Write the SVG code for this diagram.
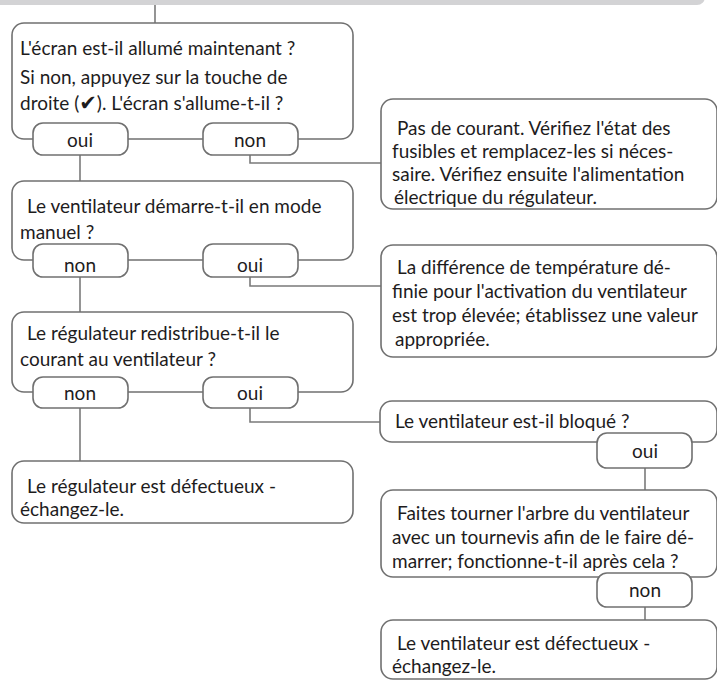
<svg xmlns="http://www.w3.org/2000/svg" width="717" height="681" viewBox="0 0 717 681">
<style>
.box{fill:#fff;stroke:#707070;stroke-width:1.6}
.pill{fill:#fff;stroke:#707070;stroke-width:1.6}
.con{fill:none;stroke:#7a7a7a;stroke-width:1.6}
text{font-family:Lato,"Liberation Sans",sans-serif;font-size:19px;fill:#1e1c1d}
.c{text-anchor:middle}
.chk{font-family:"DejaVu Sans",sans-serif;font-size:21px}
</style>
<rect x="-20" y="-20" width="725" height="25" rx="8" fill="#d3d3d5"/>
<g id="connectors">
<path class="con" d="M155 5V23"/>
<path class="con" d="M80 155V181"/>
<path class="con" d="M250 155V163H381"/>
<path class="con" d="M80 277V312"/>
<path class="con" d="M250 277V286H381"/>
<path class="con" d="M80 408V461"/>
<path class="con" d="M250 408V422H380"/>
<path class="con" d="M645 468V490"/>
<path class="con" d="M645 607V620"/>
</g>
<g id="q1">
<rect class="box" x="12" y="23" width="341" height="116" rx="12"/>
<text x="20" y="55">L'écran est-il allumé maintenant ?</text>
<text x="20" y="84">Si non, appuyez sur la touche de</text>
<text x="20" y="110">droite (<tspan class="chk">✔</tspan>). L'écran s'allume-t-il ?</text>
</g>
<g id="q1-oui"><rect class="pill" x="33" y="123" width="95" height="32" rx="10"/><text class="c" x="80" y="147">oui</text></g>
<g id="q1-non"><rect class="pill" x="203" y="123" width="95" height="32" rx="10"/><text class="c" x="250" y="147">non</text></g>
<g id="a1">
<rect class="box" x="381" y="99" width="336" height="110" rx="12"/>
<text x="397" y="135">Pas de courant. Vérifiez l'état des</text>
<text x="392" y="158">fusibles et remplacez-les si néces-</text>
<text x="392" y="181">saire. Vérifiez ensuite l'alimentation</text>
<text x="394" y="204">électrique du régulateur.</text>
</g>
<g id="q2">
<rect class="box" x="12" y="181" width="341" height="79" rx="12"/>
<text x="27" y="213">Le ventilateur démarre-t-il en mode</text>
<text x="20" y="239">manuel ?</text>
</g>
<g id="q2-non"><rect class="pill" x="33" y="244" width="95" height="33" rx="10"/><text class="c" x="80" y="272">non</text></g>
<g id="q2-oui"><rect class="pill" x="203" y="244" width="95" height="33" rx="10"/><text class="c" x="250" y="272">oui</text></g>
<g id="a2">
<rect class="box" x="381" y="245" width="336" height="112" rx="12"/>
<text x="397" y="274">La différence de température dé-</text>
<text x="392" y="298">finie pour l'activation du ventilateur</text>
<text x="392" y="322">est trop élevée; établissez une valeur</text>
<text x="395" y="346">appropriée.</text>
</g>
<g id="q3">
<rect class="box" x="12" y="312" width="341" height="80" rx="12"/>
<text x="27" y="340">Le régulateur redistribue-t-il le</text>
<text x="20" y="366">courant au ventilateur ?</text>
</g>
<g id="q3-non"><rect class="pill" x="33" y="377" width="95" height="31" rx="10"/><text class="c" x="80" y="400">non</text></g>
<g id="q3-oui"><rect class="pill" x="203" y="377" width="95" height="31" rx="10"/><text class="c" x="250" y="400">oui</text></g>
<g id="a3">
<rect class="box" x="12" y="461" width="341" height="62" rx="12"/>
<text x="27" y="493">Le régulateur est défectueux -</text>
<text x="20" y="516">échangez-le.</text>
</g>
<g id="q4">
<rect class="box" x="380" y="401" width="337" height="41" rx="12"/>
<text x="395" y="428">Le ventilateur est-il bloqué ?</text>
</g>
<g id="q4-oui"><rect class="pill" x="597" y="433" width="95" height="35" rx="10"/><text class="c" x="645" y="458">oui</text></g>
<g id="q5">
<rect class="box" x="381" y="490" width="336" height="87" rx="12"/>
<text x="397" y="520">Faites tourner l'arbre du ventilateur</text>
<text x="392" y="544">avec un tournevis afin de le faire dé-</text>
<text x="392" y="568">marrer; fonctionne-t-il après cela ?</text>
</g>
<g id="q5-non"><rect class="pill" x="597" y="573" width="95" height="34" rx="10"/><text class="c" x="645" y="597">non</text></g>
<g id="a4">
<rect class="box" x="381" y="620" width="336" height="59" rx="12"/>
<text x="397" y="650">Le ventilateur est défectueux -</text>
<text x="392" y="673">échangez-le.</text>
</g>
</svg>
